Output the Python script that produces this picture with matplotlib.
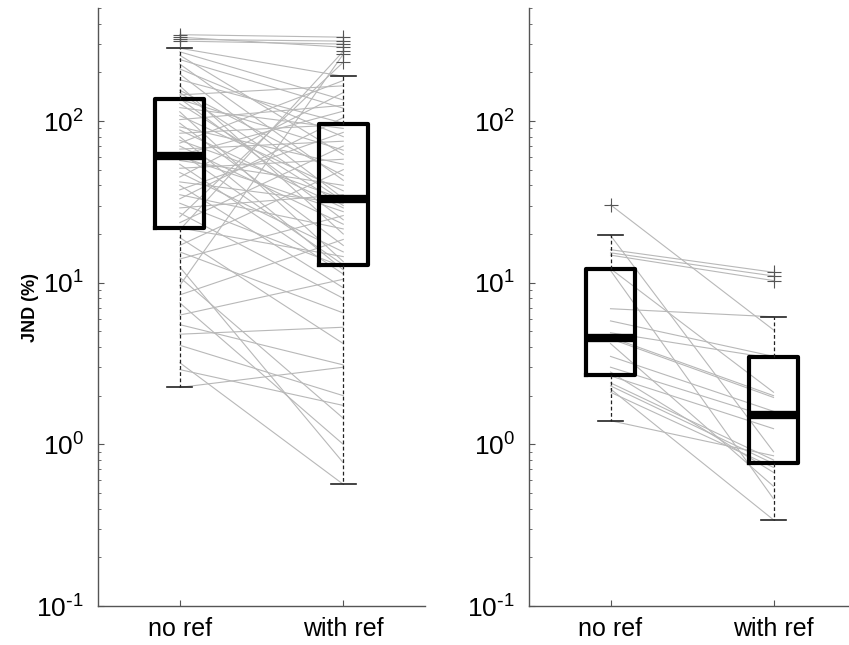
import matplotlib
matplotlib.use("Agg")
import matplotlib.pyplot as plt
from matplotlib.ticker import FuncFormatter
import numpy as np

plt.rcParams["font.family"] = ["Liberation Sans", "DejaVu Sans"]
plt.rcParams["mathtext.default"] = "regular"
plt.rcParams["axes.unicode_minus"] = False

# --- data (one entry per subject, paired) ---
conditions = ["no ref", "with ref"]

left_no_ref = [2.25, 2.9, 3.2, 4.1, 4.8, 5.5, 6.3, 7.5, 8.4, 9.6,
               10.8, 12.5, 14.0, 15.5, 17.0, 19.0, 21.2, 21.8, 23.5, 25.5,
               27, 29, 31, 33, 35, 37.5, 40, 42, 45, 48,
               51, 54, 57, 60.5, 61.5, 64, 67, 70, 73, 76,
               80, 84, 88, 92, 97, 102, 108, 114, 121, 128,
               136, 138, 145, 150, 155, 165, 180, 195, 210, 225,
               240, 255, 268, 282, 312, 320, 330, 342]
left_with_ref = [3.0, 1.74, 0.566, 2.0, 5.3, 3.1, 10.5, 1.0, 18.5, 259,
                 1.45, 0.77, 26, 6.5, 50, 4.2, 270, 14.5, 70, 231,
                 8.0, 35, 12.5, 105, 21.5, 85, 9.3, 31, 150, 15.5,
                 58, 11.3, 40, 27.5, 115, 12.9, 75, 23, 178, 32.8,
                 12.0, 95, 29, 54, 17, 125, 37, 13.5, 90, 30,
                 66, 24.5, 165, 32, 46, 20, 97, 33.2, 80, 43,
                 120, 62, 135, 189, 299, 312, 286, 330]

right_no_ref = [30.3, 19.6, 16.0, 15.3, 14.8, 12.2, 11.9, 6.9, 5.8, 4.9, 4.6,
                4.5, 4.2, 3.5, 3.0, 2.8, 2.65, 2.4, 2.3, 2.2, 2.1, 1.40]
right_with_ref = [5.1, 0.9, 11.6, 11.0, 10.3, 2.1, 0.46, 6.15, 3.5, 3.4, 2.0,
                  1.95, 0.55, 1.6, 1.45, 0.67, 1.25, 0.80, 0.76, 0.341, 0.72, 0.85]

ylim = (0.1, 500)


def pow10_label(v, pos):
    e = int(round(np.log10(v)))
    if e < 0:
        return r"$10^{\text{-}%d}$" % (-e)
    return r"$10^{%d}$" % e


def panel(ax, no_ref, with_ref, xmax):
    # paired subject lines
    for a, b in zip(no_ref, with_ref):
        ax.plot([1, 2], [a, b], color="#b8b8b8", lw=0.8, zorder=1)

    ax.boxplot([no_ref, with_ref], positions=[1, 2], widths=0.3, whis=1.5,
               capwidths=0.15, manage_ticks=False,
               boxprops=dict(color="black", linewidth=3.0),
               medianprops=dict(color="black", linewidth=6, solid_capstyle="butt"),
               whiskerprops=dict(color="#222222", linewidth=0.9, linestyle=(0, (3, 2))),
               capprops=dict(color="#222222", linewidth=1.2),
               flierprops=dict(marker="+", markeredgecolor="#555555", markersize=10,
                               markeredgewidth=0.8))

    ax.set_yscale("log")
    ax.set_ylim(*ylim)
    ax.set_yticks([0.1, 1, 10, 100])
    ax.yaxis.set_major_formatter(FuncFormatter(pow10_label))
    ax.set_xlim(0.5, xmax)
    ax.set_xticks([1, 2])
    ax.set_xticklabels(conditions)
    for s in ["top", "right"]:
        ax.spines[s].set_visible(False)
    for s in ["left", "bottom"]:
        ax.spines[s].set_color("#555555")
        ax.spines[s].set_linewidth(1.0)
    ax.tick_params(which="both", direction="in", colors="#555555", labelcolor="black")
    ax.tick_params(axis="y", which="major", length=4, labelsize=19, pad=10)
    ax.tick_params(axis="y", which="minor", length=2.5)
    ax.tick_params(axis="x", length=4, labelsize=18, pad=8)


fig = plt.figure(figsize=(8.49, 6.45), dpi=100)
ax1 = fig.add_axes([98 / 849, 1 - 606 / 645, 327 / 849, 598 / 645])
ax2 = fig.add_axes([529 / 849, 1 - 606 / 645, 320 / 849, 598 / 645])

panel(ax1, left_no_ref, left_with_ref, 2.5)
panel(ax2, right_no_ref, right_with_ref, 2.463)

ax1.set_ylabel("JND (%)", fontsize=13, fontweight="bold")
ax1.yaxis.set_label_coords(-0.18, 0.5)

fig.savefig("out.png", dpi=100, facecolor="white")
